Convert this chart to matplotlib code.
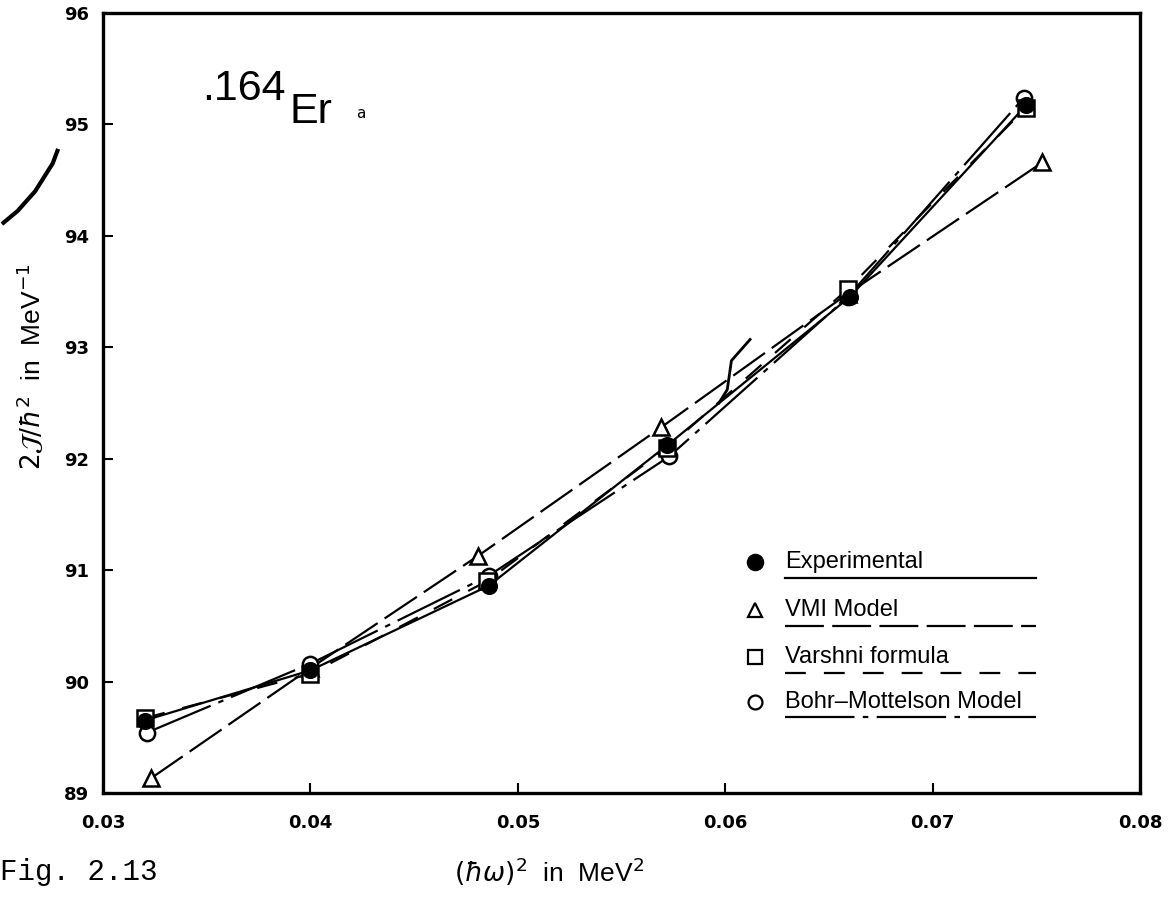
import matplotlib
matplotlib.use("Agg")
import matplotlib.pyplot as plt
from matplotlib.lines import Line2D

plt.rcParams['lines.scale_dashes'] = False

# Moment of inertia of 164Er versus squared rotational frequency
x_exp = [0.0320, 0.0400, 0.0486, 0.0572, 0.0660, 0.0745]
y_exp = [89.65, 90.10, 90.86, 92.12, 93.45, 95.17]

x_vmi = [0.0323, 0.0400, 0.0481, 0.0569, 0.0659, 0.0753]
y_vmi = [89.13, 90.12, 91.13, 92.28, 93.48, 94.66]

x_var = [0.0320, 0.0400, 0.0485, 0.0572, 0.0659, 0.0745]
y_var = [89.67, 90.07, 90.90, 92.10, 93.52, 95.15]

x_bm = [0.0321, 0.0400, 0.0486, 0.0573, 0.0659, 0.0744]
y_bm = [89.54, 90.16, 90.95, 92.02, 93.45, 95.24]

# short pen stroke on the curve near 0.06
pen_x = [0.0597, 0.0601, 0.0603, 0.0612]
pen_y = [92.50, 92.62, 92.88, 93.07]

x_ticks = [0.03, 0.04, 0.05, 0.06, 0.07, 0.08]
x_ticklabels = ['0.03', '0.04', '0.05', '0.06', '0.07', '0.08']
y_ticks = [89, 90, 91, 92, 93, 94, 95, 96]

legend_labels = ['Experimental', 'VMI Model', 'Varshni formula', 'Bohr\u2013Mottelson Model']

ls_exp = '-'
ls_vmi = (0, (28, 6))
ls_var = (0, (15, 13))
ls_bm = (0, (50, 6, 4, 6))

fig = plt.figure(figsize=(11.71, 8.98), dpi=100)
ax = fig.add_axes([0.088, 0.117, 0.8855, 0.8685])

lw = 1.6
ax.plot(x_vmi, y_vmi, color='black', lw=lw, linestyle=ls_vmi, zorder=2)
ax.plot(x_var, y_var, color='black', lw=lw, linestyle=ls_var, zorder=2)
ax.plot(x_bm, y_bm, color='black', lw=lw, linestyle=ls_bm, zorder=2)
ax.plot(x_exp, y_exp, color='black', lw=lw, linestyle=ls_exp, zorder=2)
ax.plot(pen_x, pen_y, color='black', lw=2.0, zorder=2)

mk = dict(linestyle='none', markeredgecolor='black', markeredgewidth=1.8, zorder=3)
ax.plot(x_vmi, y_vmi, marker='^', markersize=12, markerfacecolor='white', **mk)
ax.plot(x_bm, y_bm, marker='o', markersize=11, markerfacecolor='white', **mk)
ax.plot(x_var, y_var, marker='s', markersize=12, markerfacecolor='white', **mk)
ax.plot(x_exp, y_exp, marker='o', markersize=10.5, markerfacecolor='black', **mk)

ax.set_xlim(0.03, 0.08)
ax.set_ylim(89, 96)
ax.set_xticks(x_ticks)
ax.set_xticklabels(x_ticklabels)
ax.set_yticks(y_ticks)
ax.tick_params(direction='in', length=7, width=1.5)
ax.tick_params(axis='x', pad=15)
ax.tick_params(axis='y', pad=10)
for lab in ax.get_xticklabels() + ax.get_yticklabels():
    lab.set_fontweight('bold')
    lab.set_fontsize(13)
    lab.set_fontfamily('DejaVu Sans')
for sp in ax.spines.values():
    sp.set_linewidth(2.4)

ax.set_xlabel(r'$(\hbar\omega)^2$  in  MeV$^2$', fontsize=19, family='Liberation Sans')
ax.xaxis.label.set_verticalalignment('center')
ax.xaxis.set_label_coords(0.43, -0.101)
ax.set_ylabel(r'$2\mathcal{J}/\hbar^2$  in  MeV$^{-1}$', fontsize=19, family='Liberation Sans')
ax.yaxis.set_label_coords(-0.056, 0.547)

# nucleus label
ax.text(0.0348, 95.22, '.164', fontsize=31, family='Liberation Sans',
        ha='left', va='baseline')
ax.text(0.0390, 95.01, 'Er', fontsize=31, family='Liberation Sans',
        ha='left', va='baseline')
ax.text(0.0422, 95.06, 'a', fontsize=11, family='DejaVu Sans', ha='left', va='baseline')

# legend: marker, text, underline in the series' line style
leg_styles = [ls_exp, ls_vmi, ls_var, ls_bm]
leg_markers = [('o', 'black', 11), ('^', 'white', 10), ('s', 'white', 10), ('o', 'white', 10)]
row_y = [0.296, 0.234, 0.174, 0.117]
for lab, ls, (m, fc, ms), yy in zip(legend_labels, leg_styles, leg_markers, row_y):
    ax.plot([0.629], [yy], transform=ax.transAxes, marker=m, markersize=ms,
            markerfacecolor=fc, markeredgecolor='black', markeredgewidth=1.6,
            linestyle='none', clip_on=False)
    ax.text(0.658, yy, lab, transform=ax.transAxes, fontsize=17,
            family='Liberation Sans', va='center', ha='left')
    ax.plot([0.658, 0.900], [yy - 0.020, yy - 0.020], transform=ax.transAxes,
            color='black', lw=1.6, linestyle=ls)

fig.text(0.0, 0.029, 'Fig. 2.13', fontsize=21, family='Liberation Mono',
         ha='left', va='center')

# stray stroke at the left margin
fig.add_artist(Line2D([0.003, 0.015, 0.030, 0.045, 0.049],
                      [0.752, 0.765, 0.787, 0.818, 0.832],
                      color='black', lw=3.0))

fig.savefig('out.png', dpi=100)
